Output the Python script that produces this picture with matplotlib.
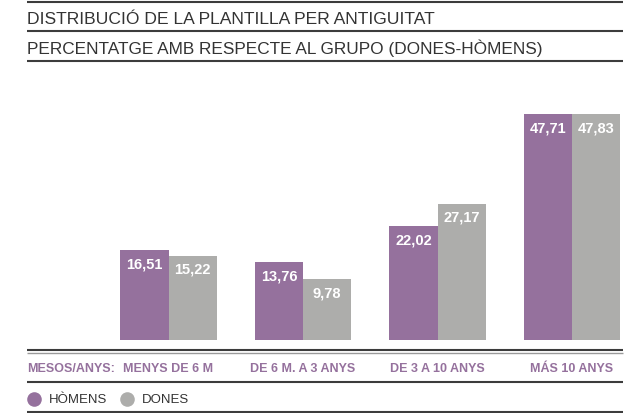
import matplotlib

matplotlib.use("Agg")
import matplotlib.pyplot as plt
from matplotlib.transforms import blended_transform_factory

# Data.
CATEGORIES = ["MENYS DE 6 M", "DE 6 M. A 3 ANYS", "DE 3 A 10 ANYS", "MÁS 10 ANYS"]
HOMENS = [16.51, 13.76, 22.02, 47.71]
DONES = [15.22, 9.78, 27.17, 47.83]
SERIES_LABELS = ["HÒMENS", "DONES"]
AXIS_LABEL = "MESOS/ANYS:"
TITLE = "DISTRIBUCIÓ DE LA PLANTILLA PER ANTIGUITAT"
SUBTITLE = "PERCENTATGE AMB RESPECTE AL GRUPO (DONES-HÒMENS)"

# Cosmetics.
W, H, DPI = 635, 414, 100
PURPLE = "#95719d"
GREY = "#adadab"
RULE = "#3c3c3c"
TEXT = "#333333"
SANS = ["Liberation Sans", "DejaVu Sans"]
CAT_FS = 9
BAR_W = 0.357
FLOOR = -4.2  # bars rise from a floor a little below zero, as in the original


def fig_rect(left, top, right, bottom):
    """Pixel box (from top-left) -> figure fraction rect."""
    return [left / W, 1 - bottom / H, (right - left) / W, (bottom - top) / H]


fig = plt.figure(figsize=(W / DPI, H / DPI), dpi=DPI)

# Overlay in pixel coordinates for rules, titles and legend.
ov = fig.add_axes([0, 0, 1, 1])
ov.set_xlim(0, W)
ov.set_ylim(H, 0)
ov.axis("off")

for y in (3, 32, 62, 383, 413):
    ov.plot([27, 623], [y, y], color=RULE, lw=1.5, solid_capstyle="butt")
ov.plot([27, 623], [351, 351], color=RULE, lw=1.5, solid_capstyle="butt")
ov.plot([27, 623], [353.5, 353.5], color="#9a9a9a", lw=1.0, solid_capstyle="butt")

ov.text(27, 24, TITLE, fontsize=12.6, color=TEXT, family=SANS, va="baseline")
ov.text(27, 54, SUBTITLE, fontsize=12.4, color=TEXT, family=SANS, va="baseline")
ov.text(27, 372, AXIS_LABEL, fontsize=CAT_FS, color=PURPLE, family=SANS,
        fontweight="bold", va="baseline")

for cx, label, col in zip((34, 127), SERIES_LABELS, (PURPLE, GREY)):
    ov.plot(cx, 400, "o", ms=10.5, color=col, mec="none")
    ov.text(cx + 15, 400.5, label, fontsize=9.5, color=TEXT, family=SANS, va="center")

# Bar panel.
ax = fig.add_axes(fig_rect(27, 70, 623, 341))
ax.set_xlim(-1.052, 3.379)
ax.set_ylim(FLOOR, 58.1)
ax.axis("off")

xs = list(range(len(CATEGORIES)))
for vals, col, off in ((HOMENS, PURPLE, -BAR_W / 2), (DONES, GREY, BAR_W / 2)):
    pos = [x + off for x in xs]
    ax.bar(pos, [v - FLOOR for v in vals], bottom=FLOOR, width=BAR_W,
           color=col, linewidth=0)
    for p, v in zip(pos, vals):
        ax.annotate(f"{v:.2f}".replace(".", ","), (p, v), xytext=(0, -9.6),
                    textcoords="offset points", ha="center", va="center",
                    color="white", fontsize=10.5, fontweight="bold", family=SANS)

trans = blended_transform_factory(ax.transData, ax.transAxes)
for x, cat in zip(xs, CATEGORIES):
    ax.text(x, -31 / 271, cat, transform=trans, ha="center", va="baseline",
            fontsize=CAT_FS, color=PURPLE, family=SANS, fontweight="bold")

fig.savefig("out.png", dpi=DPI)
